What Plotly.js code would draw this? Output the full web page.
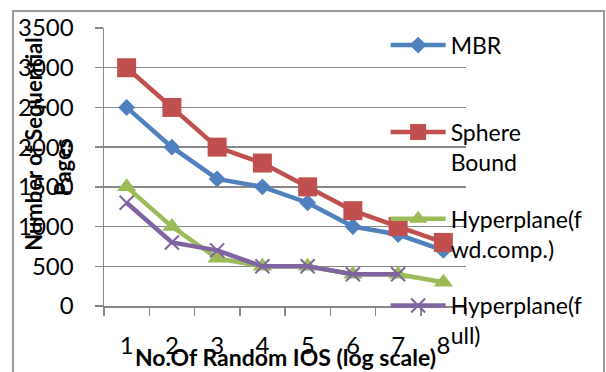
<!DOCTYPE html>
<html>
<head>
<meta charset="utf-8">
<script src="https://cdn.plot.ly/plotly-3.0.1.min.js"></script>
<style>
  html, body { margin: 0; padding: 0; background: #fff; overflow: hidden; }
  #wrap { position: relative; width: 606px; height: 372px; }
  #chart { position: absolute; left: 0; top: 0; width: 606px; height: 372px; }
  #frame { position: absolute; left: 12px; top: 10px; width: 589px; height: 420px;
           border: 2px solid #9a9a9a; pointer-events: none; }
</style>
</head>
<body>
<div id="wrap">
  <div id="chart"></div>
  <div id="frame"></div>
</div>
<script>
const categories = ['1', '2', '3', '4', '5', '6', '7', '8'];
const mbr        = [2500, 2000, 1600, 1500, 1300, 1000, 900, 700];
const sphere     = [3000, 2500, 2000, 1800, 1500, 1200, 1000, 800];
const hypFwd     = [1500, 1000, 600, 500, 500, 400, 400, 300];
const hypFull    = [1300, 800, 700, 500, 500, 400, 400, null];

const seriesNames = ['MBR<br> ', 'Sphere<br>Bound', 'Hyperplane(f<br>wd.comp.)', 'Hyperplane(f<br>ull)'];
const yTitleLines = ['Number of Sequential', 'Pages'];
const xTitle = 'No.Of Random IOS (log scale)';

const FONT = 'Lato, "Liberation Sans", sans-serif';

const traces = [
  { y: mbr, name: seriesNames[0], color: '#4F81BD', symbol: 'diamond', size: 13 },
  { y: sphere, name: seriesNames[1], color: '#C0504D', symbol: 'square', size: 19 },
  { y: hypFwd, name: seriesNames[2], color: '#9BBB59', symbol: 'triangle-up', size: 17 },
  { y: hypFull, name: seriesNames[3], color: '#8064A2', symbol: 'x-thin', size: 14 }
].map((s, i) => ({
  type: 'scatter',
  mode: 'lines+markers',
  x: categories,
  y: s.y,
  name: s.name,
  legendgroup: 'g' + i,
  line: { color: s.color, width: 4.5 },
  marker: { symbol: s.symbol, size: s.size, color: s.color,
            line: { color: s.color, width: s.symbol === 'x-thin' ? 2 : 0 } },
  connectgaps: false
}));

const layout = {
  width: 606, height: 372,
  margin: { l: 104, r: 140, t: 28, b: 66, pad: 0 },
  paper_bgcolor: '#fff', plot_bgcolor: '#fff',
  font: { family: FONT, size: 23, color: '#000' },
  showlegend: true,
  legend: {
    x: 0.778, xanchor: 'left', y: 1.0156, yanchor: 'top',
    bgcolor: 'rgba(0,0,0,0)', borderwidth: 0,
    traceorder: 'grouped', tracegroupgap: 24, valign: 'top',
    itemwidth: 55, maxheight: 1,
    font: { family: FONT, size: 23, color: '#000' }
  },
  xaxis: {
    type: 'category', range: [-0.5, 7.5],
    showgrid: false, zeroline: false,
    showline: true, linecolor: '#878787', linewidth: 1.5,
    ticks: 'outside', tickson: 'boundaries', ticklen: 8, tickcolor: '#878787', tickwidth: 1.5,
    ticklabelstandoff: 18,
    tickfont: { family: FONT, size: 24, color: '#000' },
    fixedrange: true
  },
  yaxis: {
    range: [0, 3500], dtick: 500, tick0: 0,
    showgrid: true, gridcolor: '#878787', gridwidth: 1.5,
    zeroline: false,
    showline: true, linecolor: '#878787', linewidth: 1.5,
    ticks: 'outside', ticklen: 8, tickcolor: '#878787', tickwidth: 1.5,
    ticklabelstandoff: 16,
    tickfont: { family: FONT, size: 24, color: '#000' },
    fixedrange: true
  },
  annotations: [
    { text: '<b>' + yTitleLines[0] + '</b>', xref: 'paper', yref: 'paper',
      x: (33 - 104) / 361, y: (306 - 144) / 278, xanchor: 'center', yanchor: 'middle',
      textangle: -90, showarrow: false, font: { family: FONT, size: 22, color: '#000' } },
    { text: '<b>' + yTitleLines[1] + '</b>', xref: 'paper', yref: 'paper',
      x: (62 - 104) / 361, y: (306 - 167) / 278, xanchor: 'center', yanchor: 'middle',
      textangle: -90, showarrow: false, font: { family: FONT, size: 22, color: '#000' } },
    { text: '<b>' + xTitle + '</b>', xref: 'paper', yref: 'paper',
      x: 0.5, y: (306 - 357) / 278, xanchor: 'center', yanchor: 'middle',
      showarrow: false, font: { family: FONT, size: 23, color: '#000' } }
  ]
};

Plotly.newPlot('chart', traces, layout, { staticPlot: true, displayModeBar: false });
</script>
</body>
</html>
